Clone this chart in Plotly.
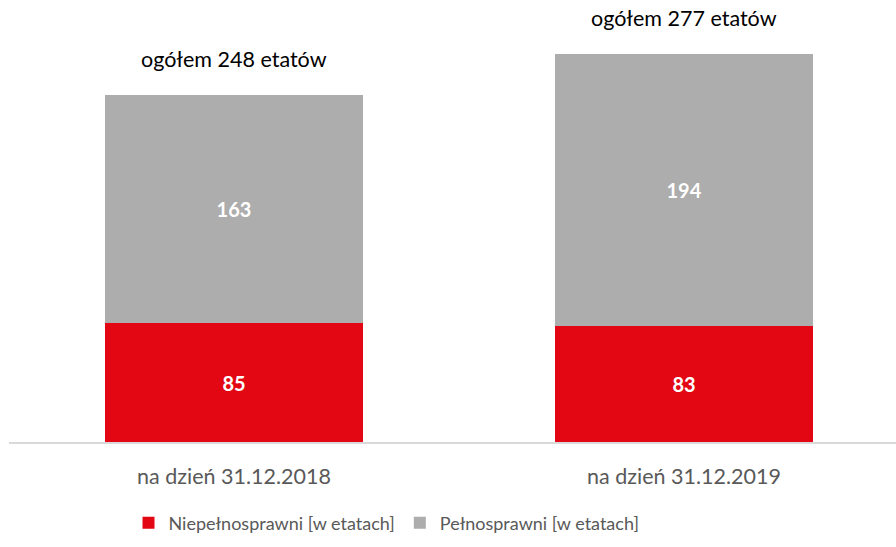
import plotly.graph_objects as go

categories = ["na dzień 31.12.2018", "na dzień 31.12.2019"]
niepelnosprawni = [85, 83]
pelnosprawni = [163, 194]
totals = [248, 277]
series_names = ["Niepełnosprawni [w etatach]", "Pełnosprawni [w etatach]"]

RED = "#E30613"
GREY = "#ADADAD"
FONT = "Lato"

x = [0, 1]
fig = go.Figure()
fig.add_trace(go.Bar(
    x=x, y=niepelnosprawni, name=series_names[0], marker=dict(color=RED, line=dict(width=0)),
    width=0.573, text=[str(v) for v in niepelnosprawni], textposition="inside",
    insidetextanchor="middle", textfont=dict(color="white", size=20, family=FONT, weight="bold"),
))
fig.add_trace(go.Bar(
    x=x, y=pelnosprawni, name=series_names[1], marker=dict(color=GREY, line=dict(width=0)),
    width=0.573, text=[str(v) for v in pelnosprawni], textposition="inside",
    insidetextanchor="middle", textfont=dict(color="white", size=20, family=FONT, weight="bold"),
))
for xi, t in zip(x, totals):
    fig.add_annotation(x=xi, y=t, text=f"ogółem {t} etatów", showarrow=False,
                       yshift=36, font=dict(size=21.5, color="#000000", family=FONT))

fig.update_layout(
    barmode="stack",
    width=896, height=547,
    margin=dict(l=9, r=0, t=20, b=105),
    paper_bgcolor="white", plot_bgcolor="white",
    font=dict(family=FONT),
    showlegend=True,
    legend=dict(orientation="h", x=0.4256, xanchor="center", y=-0.148, yanchor="top",
                font=dict(size=18, color="#595959", family=FONT), traceorder="normal",
                itemwidth=30),
    uniformtext=dict(mode="show", minsize=10),
)
fig.update_xaxes(
    tickmode="array", tickvals=x, ticktext=categories,
    range=[-0.5, 1.471], showgrid=False, zeroline=False,
    showline=True, linecolor="#D9D9D9", linewidth=1.5,
    tickfont=dict(size=21.5, color="#595959", family=FONT), ticks="", ticklen=0,
    ticklabelstandoff=14,
)
fig.update_yaxes(range=[0, 301.6], showgrid=False, zeroline=False, showticklabels=False, showline=False)

fig.write_html("out.html", config={"displayModeBar": False},
               post_script="document.body.style.margin='0';")
